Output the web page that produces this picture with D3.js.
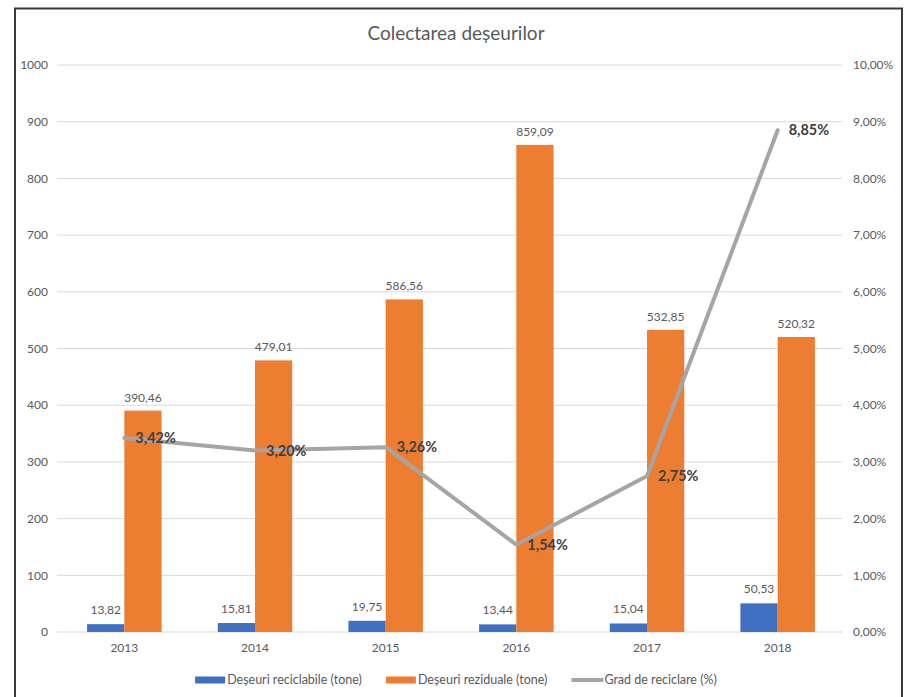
<!DOCTYPE html>
<html>
<head>
<meta charset="utf-8">
<script src="https://cdn.jsdelivr.net/npm/d3@7"></script>
<style>
  html, body { margin: 0; padding: 0; background: #fff; }
  svg { display: block; font-family: Lato, "Liberation Sans", sans-serif; }
</style>
</head>
<body>
<svg id="chart" width="914" height="697"></svg>
<script>
const years = ["2013", "2014", "2015", "2016", "2017", "2018"];
const reciclabile = [13.82, 15.81, 19.75, 13.44, 15.04, 50.53];
const reziduale = [390.46, 479.01, 586.56, 859.09, 532.85, 520.32];
const grad = [3.42, 3.20, 3.26, 1.54, 2.75, 8.85];
const leftTicks = [0, 100, 200, 300, 400, 500, 600, 700, 800, 900, 1000];
const rightTicks = [0, 1, 2, 3, 4, 5, 6, 7, 8, 9, 10];
const seriesNames = ["Deșeuri reciclabile (tone)", "Deșeuri reziduale (tone)", "Grad de reciclare (%)"];
const title = "Colectarea deșeurilor";

const colors = { blue: "#4070c2", orange: "#ed7d31", gray: "#a5a5a5", text: "#595959", bold: "#404040", grid: "#d9d9d9" };

const svg = d3.select("#chart");
const fmt = v => v.toFixed(2).replace(".", ",");

// frame
svg.append("path")
  .attr("d", "M15,697 V8.5 H902 V697")
  .attr("fill", "none").attr("stroke", "#3a3a3a").attr("stroke-width", 2);

const x = d3.scaleBand().domain(years).range([59, 843]).paddingInner(0.43).paddingOuter(0.215);
const xs = d3.scaleBand().domain(["r", "z"]).range([0, x.bandwidth()]);
const y = d3.scaleLinear().domain([0, 1000]).range([632, 65]);
const y2 = d3.scaleLinear().domain([0, 10]).range([632, 65]);

// gridlines
svg.append("g").selectAll("line").data(leftTicks).join("line")
  .attr("x1", 57).attr("x2", 842)
  .attr("y1", d => y(d)).attr("y2", d => y(d))
  .attr("stroke", colors.grid).attr("stroke-width", 1);

// left axis labels
svg.append("g").selectAll("text").data(leftTicks).join("text")
  .attr("x", 48).attr("y", d => y(d)).attr("dy", "0.35em")
  .attr("text-anchor", "end").attr("font-size", 12).attr("fill", colors.text)
  .text(d => d);

// right axis labels
svg.append("g").selectAll("text").data(rightTicks).join("text")
  .attr("x", 853).attr("y", d => y2(d)).attr("dy", "0.35em")
  .attr("text-anchor", "start").attr("font-size", 12).attr("fill", colors.text)
  .text(d => d.toFixed(2).replace(".", ",") + "%");

// x labels
svg.append("g").selectAll("text").data(years).join("text")
  .attr("x", d => x(d) + x.bandwidth() / 2).attr("y", 652)
  .attr("text-anchor", "middle").attr("font-size", 12).attr("fill", colors.text)
  .text(d => d);

// bars
const rows = years.map((yr, i) => ({ yr, r: reciclabile[i], z: reziduale[i], g: grad[i] }));
const gBars = svg.append("g");
gBars.selectAll("rect.r").data(rows).join("rect").attr("class", "r")
  .attr("x", d => x(d.yr) + xs("r")).attr("width", xs.bandwidth())
  .attr("y", d => y(d.r)).attr("height", d => y(0) - y(d.r))
  .attr("fill", colors.blue);
gBars.selectAll("rect.z").data(rows).join("rect").attr("class", "z")
  .attr("x", d => x(d.yr) + xs("z")).attr("width", xs.bandwidth())
  .attr("y", d => y(d.z)).attr("height", d => y(0) - y(d.z))
  .attr("fill", colors.orange);

// bar labels
gBars.selectAll("text.rl").data(rows).join("text").attr("class", "rl")
  .attr("x", d => x(d.yr) + xs("r") + xs.bandwidth() / 2).attr("y", d => y(d.r) - 10)
  .attr("text-anchor", "middle").attr("font-size", 12).attr("fill", colors.text)
  .text(d => fmt(d.r));
gBars.selectAll("text.zl").data(rows).join("text").attr("class", "zl")
  .attr("x", d => x(d.yr) + xs("z") + xs.bandwidth() / 2).attr("y", d => y(d.z) - 9)
  .attr("text-anchor", "middle").attr("font-size", 12).attr("fill", colors.text)
  .text(d => fmt(d.z));

// line
const cx = d => x(d.yr) + x.bandwidth() / 2;
svg.append("path").datum(rows)
  .attr("d", d3.line().x(cx).y(d => y2(d.g)))
  .attr("fill", "none").attr("stroke", colors.gray).attr("stroke-width", 4)
  .attr("stroke-linejoin", "round").attr("stroke-linecap", "round");

svg.append("g").selectAll("text").data(rows).join("text")
  .attr("x", d => cx(d) + 11).attr("y", d => y2(d.g)).attr("dy", "0.35em")
  .attr("font-size", 14.5).attr("font-weight", "bold").attr("fill", colors.bold)
  .text(d => fmt(d.g) + "%");

// title
svg.append("text").attr("x", 456).attr("y", 40).attr("text-anchor", "middle")
  .attr("font-size", 19).attr("fill", colors.text).text(title);

// legend
const leg = svg.append("g");
let cur = 0;
seriesNames.forEach((name, i) => {
  const g = leg.append("g").attr("transform", `translate(${cur},0)`);
  if (i < 2) {
    g.append("rect").attr("x", 0).attr("y", -3.5).attr("width", 30).attr("height", 7)
      .attr("fill", i === 0 ? colors.blue : colors.orange);
  } else {
    g.append("line").attr("x1", 0).attr("x2", 32).attr("y1", 0).attr("y2", 0)
      .attr("stroke", colors.gray).attr("stroke-width", 4);
  }
  const t = g.append("text").attr("x", i < 2 ? 32 : 33).attr("y", 0).attr("dy", "0.35em")
    .attr("font-size", 12.5).attr("fill", colors.text).text(name);
  const w = (i < 2 ? 32 : 33) + t.node().getComputedTextLength();
  cur += w + 24;
});
const total = cur - 24;
leg.attr("transform", `translate(${456 - total / 2},680)`);
</script>
</body>
</html>
